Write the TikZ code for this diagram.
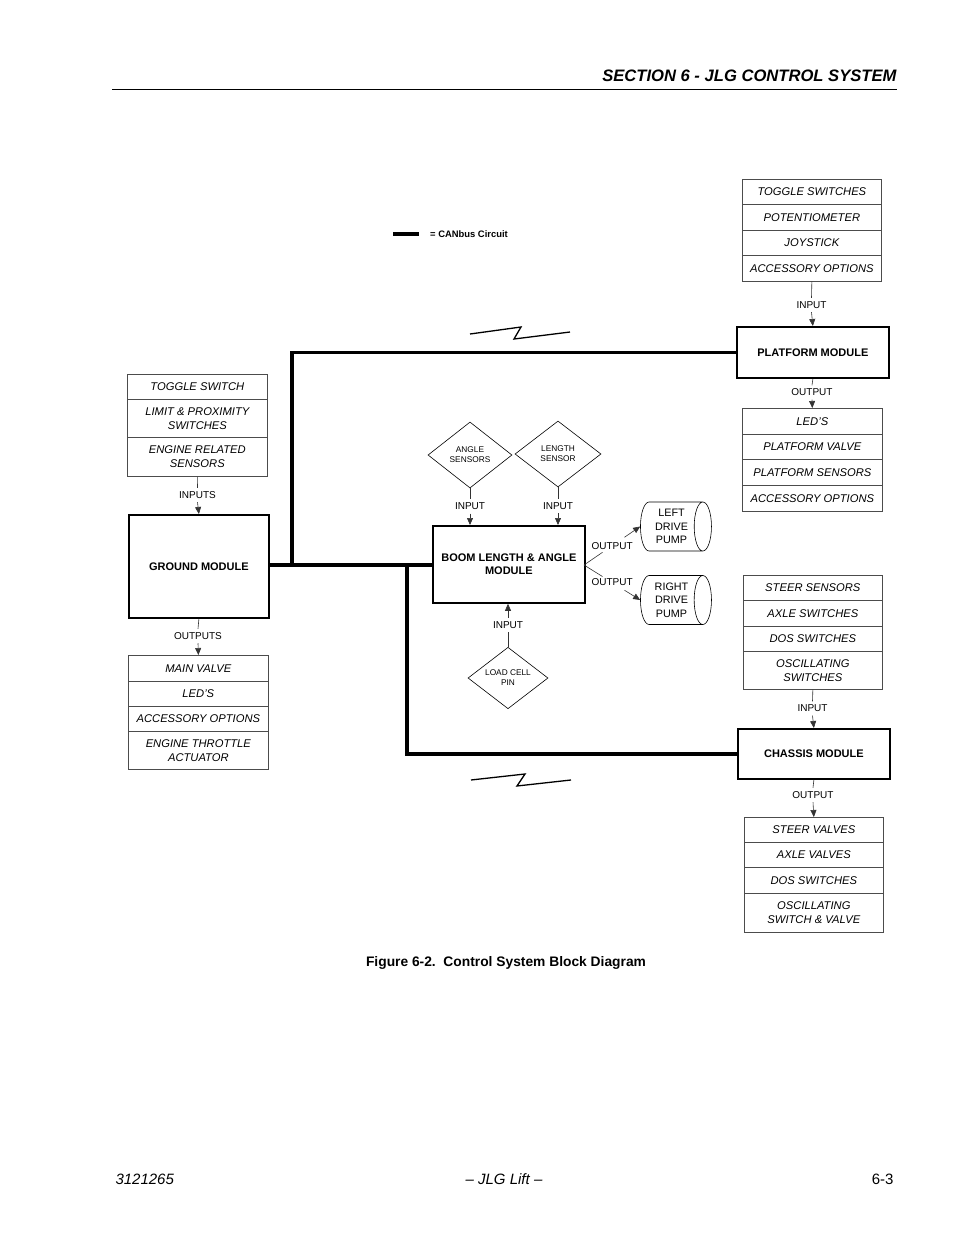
\documentclass[tikz,border=0pt]{standalone}
\usepackage{fontspec}
\setmainfont{Liberation Sans}
\usetikzlibrary{shapes.geometric,arrows.meta,calc}
\tikzset{
  cell/.style={draw=black!70, line width=0.7pt, anchor=north west, inner sep=0pt, align=center,
    font=\fontsize{11.2}{14}\selectfont\itshape},
  module/.style={draw, line width=1.8pt, anchor=north west, inner sep=0pt, align=center,
    font=\fontsize{11}{13.5}\selectfont\bfseries},
  canbus/.style={line width=3.6pt, line join=miter},
  thin/.style={line width=0.6pt, draw=black!80},
  arr/.style={thin, -{Triangle[width=6pt,length=7pt]}},
  lbl/.style={inner xsep=1.5pt, inner ysep=3.5pt, font=\fontsize{10}{12}\selectfont},
  sensor/.style={diamond, draw, line width=0.6pt, inner sep=0pt, align=center,
    font=\fontsize{8.3}{10}\selectfont},
  pump/.style={cylinder, draw, line width=0.6pt, aspect=0.5, inner sep=0pt, align=center,
    minimum width=49pt, minimum height=71pt, font=\fontsize{10.8}{13.5}\selectfont},
  spark/.style={line width=1.3pt, line join=miter},
}
\begin{document}
\begin{tikzpicture}[x=1pt,y=-1pt]
\useasboundingbox (0,0) rectangle (954,1235);

% header and footer
\node[anchor=base east, font=\fontsize{16.6}{20}\selectfont\bfseries\itshape] (hdr) at (900,81) {SECTION 6 - JLG CONTROL SYSTEM};
\draw[line width=0.9pt] (112,89) coordinate (r1) -- (897,89) coordinate (r2);
\node[anchor=base west, font=\fontsize{15}{18}\selectfont\itshape] (f1) at (112,1184) {3121265};
\node[anchor=base, font=\fontsize{15}{18}\selectfont\itshape] (f2) at (504,1184) {-- JLG Lift --};
\node[anchor=base east, font=\fontsize{15}{18}\selectfont] (f3) at (897,1184) {6-3};
\node[anchor=base, font=\fontsize{13.8}{16}\selectfont\bfseries] (cap) at (506,966) {Figure 6-2.\ \ Control System Block Diagram};

% legend
\coordinate (lg1) at (393,234);
\coordinate (lg2) at (419,234);
\draw[canbus] (lg1) -- (lg2);
\node[anchor=west, inner sep=0pt, font=\fontsize{9.4}{11}\selectfont\bfseries] (lgt) at (430,234.5) {= CANbus Circuit};

% platform input stack
\node[cell, minimum width=139pt, minimum height=25pt] (pi1) at (742,179) {TOGGLE SWITCHES};
\node[cell, minimum width=139pt, minimum height=26pt] (pi2) at (742,204) {POTENTIOMETER};
\node[cell, minimum width=139pt, minimum height=25pt] (pi3) at (742,230) {JOYSTICK};
\node[cell, minimum width=139pt, minimum height=26pt] (pi4) at (742,255) {ACCESSORY OPTIONS};

% platform module
\node[module, minimum width=152pt, minimum height=51pt] (pm) at (736,326) {PLATFORM MODULE};

% platform output stack
\node[cell, minimum width=140pt, minimum height=26pt] (po1) at (742,408) {LED'S};
\node[cell, minimum width=140pt, minimum height=25pt] (po2) at (742,434) {PLATFORM VALVE};
\node[cell, minimum width=140pt, minimum height=26pt] (po3) at (742,459) {PLATFORM SENSORS};
\node[cell, minimum width=140pt, minimum height=26pt] (po4) at (742,485) {ACCESSORY OPTIONS};

% ground input stack
\node[cell, minimum width=140pt, minimum height=25pt] (gi1) at (127,374) {TOGGLE SWITCH};
\node[cell, minimum width=140pt, minimum height=38pt] (gi2) at (127,399) {LIMIT \& PROXIMITY\\SWITCHES};
\node[cell, minimum width=140pt, minimum height=39pt] (gi3) at (127,437) {ENGINE RELATED\\SENSORS};

% ground module
\node[module, minimum width=140pt, minimum height=103pt] (gm) at (128,514) {GROUND MODULE};

% ground output stack
\node[cell, minimum width=140pt, minimum height=26pt] (go1) at (128,655) {MAIN VALVE};
\node[cell, minimum width=140pt, minimum height=25pt] (go2) at (128,681) {LED'S};
\node[cell, minimum width=140pt, minimum height=25pt] (go3) at (128,706) {ACCESSORY OPTIONS};
\node[cell, minimum width=140pt, minimum height=38pt] (go4) at (128,731) {ENGINE THROTTLE\\ACTUATOR};

% boom module
\node[module, minimum width=152pt, minimum height=77pt] (bm) at (432,525) {BOOM LENGTH \& ANGLE\\MODULE};

% sensors
\node[sensor, minimum width=84pt, minimum height=66pt] (ds1) at (470,455) {ANGLE\\SENSORS};
\node[sensor, minimum width=86pt, minimum height=66pt] (ds2) at (558,454) {LENGTH\\SENSOR};
\node[sensor, minimum width=80pt, minimum height=60pt] (ds3) at (508,678) {LOAD CELL\\PIN};

% pumps
\node[pump] (lp) at (671.5,526.5) {LEFT\\DRIVE\\PUMP};
\node[pump] (rp) at (671.5,600) {RIGHT\\DRIVE\\PUMP};

% chassis input stack
\node[cell, minimum width=139pt, minimum height=25pt] (ci1) at (743,575) {STEER SENSORS};
\node[cell, minimum width=139pt, minimum height=26pt] (ci2) at (743,600) {AXLE SWITCHES};
\node[cell, minimum width=139pt, minimum height=25pt] (ci3) at (743,626) {DOS SWITCHES};
\node[cell, minimum width=139pt, minimum height=38pt] (ci4) at (743,651) {OSCILLATING\\SWITCHES};

% chassis module
\node[module, minimum width=152pt, minimum height=50pt] (cm) at (737,728) {CHASSIS MODULE};

% chassis output stack
\node[cell, minimum width=139pt, minimum height=25pt] (co1) at (744,817) {STEER VALVES};
\node[cell, minimum width=139pt, minimum height=25pt] (co2) at (744,842) {AXLE VALVES};
\node[cell, minimum width=139pt, minimum height=26pt] (co3) at (744,867) {DOS SWITCHES};
\node[cell, minimum width=139pt, minimum height=39pt] (co4) at (744,893) {OSCILLATING\\SWITCH \& VALVE};

% CANbus
\coordinate (jA) at (292,565);
\coordinate (jB) at (407,565);
\coordinate (bmw) at (432,565);
\draw[canbus] (gm.east |- jA) -- (bmw);
\draw[canbus] (jA) |- (pm.west);
\draw[canbus] (jB) |- (cm.west);

% signal labels
\node[lbl] (l1) at (811.5,305) {INPUT};
\node[lbl] (l2) at (812,392.5) {OUTPUT};
\node[lbl] (l3) at (197.5,495) {INPUTS};
\node[lbl] (l4) at (198,636) {OUTPUTS};
\node[lbl] (l5) at (812.5,708.5) {INPUT};
\node[lbl] (l6) at (813,795) {OUTPUT};
\node[lbl] (l7) at (470,506.5) {INPUT};
\node[lbl] (l8) at (558,506) {INPUT};
\node[lbl] (l9) at (508,625) {INPUT};
\coordinate (bmo) at (584,565);
\node[lbl] (l10) at ($(bmo)!0.5!(lp.west)$) {OUTPUT};
\node[lbl] (l11) at ($(bmo)!0.5!(rp.west)$) {OUTPUT};

% signal arrows
\draw[thin] (pi4.south) -- (l1.north);  \draw[arr] (l1.south) -- (pm.north);
\draw[thin] (pm.south) -- (l2.north);   \draw[arr] (l2.south) -- (po1.north);
\draw[thin] (gi3.south) -- (l3.north);  \draw[arr] (l3.south) -- (gm.north);
\draw[thin] (gm.south) -- (l4.north);   \draw[arr] (l4.south) -- (go1.north);
\draw[thin] (ci4.south) -- (l5.north);  \draw[arr] (l5.south) -- (cm.north);
\draw[thin] (cm.south) -- (l6.north);   \draw[arr] (l6.south) -- (co1.north);
\draw[thin] (ds1.south) -- (l7.north);  \draw[arr] (l7.south) -- (l7.south |- bm.north);
\draw[thin] (ds2.south) -- (l8.north);  \draw[arr] (l8.south) -- (l8.south |- bm.north);
\draw[thin] (ds3.north) -- (l9.south);  \draw[arr] (l9.north) -- (l9.north |- bm.south);
\draw[thin] (bmo) -- ($(bmo)!0.33!(lp.west)$) coordinate (o1a);
\draw[arr] ($(bmo)!0.72!(lp.west)$) coordinate (o1b) -- (lp.west);
\draw[thin] (bmo) -- ($(bmo)!0.33!(rp.west)$) coordinate (o2a);
\draw[arr] ($(bmo)!0.72!(rp.west)$) coordinate (o2b) -- (rp.west);

% wireless symbols
\coordinate (s1a) at (470,334);
\coordinate (s1b) at (521,327);
\coordinate (s1c) at (514,339);
\coordinate (s1d) at (570,332);
\draw[spark] (s1a) -- (s1b) -- (s1c) -- (s1d);
\coordinate (s2a) at (471,780);
\coordinate (s2b) at (525,774);
\coordinate (s2c) at (517,786);
\coordinate (s2d) at (571,780);
\draw[spark] (s2a) -- (s2b) -- (s2c) -- (s2d);
\end{tikzpicture}
\end{document}
